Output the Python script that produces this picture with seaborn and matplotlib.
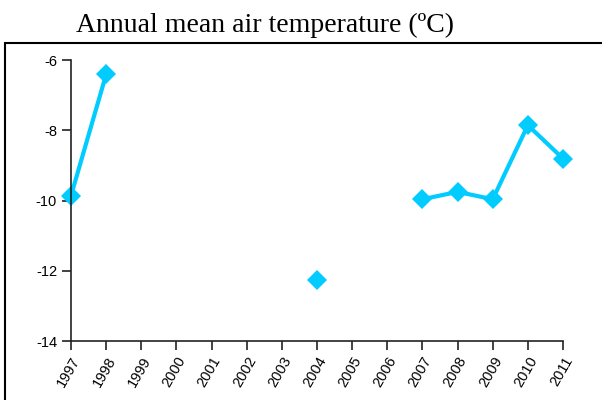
import numpy as np
import pandas as pd
import matplotlib
matplotlib.use("Agg")
import matplotlib.pyplot as plt
import seaborn as sns
from matplotlib.patches import Rectangle

years = list(range(1997, 2012))
temps = [-9.86, -6.40, np.nan, np.nan, np.nan, np.nan, np.nan, -12.25,
         np.nan, np.nan, -9.96, -9.75, -9.96, -7.85, -8.80]
y_ticks = [-14, -12, -10, -8, -6]
title = "Annual mean air temperature (ºC)"
color = "#00CCFF"

df = pd.DataFrame({"year": years, "temp": temps})
# break the line at missing years: each run of present values is its own unit
df["seg"] = df["temp"].isna().cumsum()
df = df.dropna()

sns.set_theme(style="ticks")
plt.rcParams["font.family"] = ["Liberation Sans", "DejaVu Sans"]

fig = plt.figure(figsize=(6.02, 4.00), dpi=100)
ax = fig.add_axes([71/602, 1-341/400, (563-71)/602, (341-60.3)/400])

sns.lineplot(data=df, x="year", y="temp", units="seg", estimator=None,
             color=color, linewidth=3.0, marker="D", markersize=10,
             markeredgewidth=0, markeredgecolor=color, ax=ax, legend=False)
for ln in ax.lines:
    ln.set_clip_on(False)

ax.set_xlim(1997, 2011)
ax.set_ylim(-14, -6)
ax.set_xticks(years)
ax.set_xticklabels([str(y) for y in years], rotation=60, ha="right",
                   rotation_mode="anchor", fontsize=10.5)
ax.set_yticks(y_ticks)
ax.set_yticklabels([str(v) for v in y_ticks], fontsize=10.5)
ax.set_xlabel("")
ax.set_ylabel("")
sns.despine(ax=ax)
for s in ["left", "bottom"]:
    ax.spines[s].set_linewidth(1.2)
    ax.spines[s].set_color("#222222")
    ax.spines[s].set_clip_on(False)
ax.tick_params(axis="both", direction="out", length=6.5, width=1.2,
               color="#222222", labelcolor="black")
ax.tick_params(axis="y", pad=3.5)
ax.tick_params(axis="x", pad=3)
ax.patch.set_alpha(0)

frame = Rectangle((5/602, -0.2), 1.2, 0.2 + 1 - 43/400, transform=fig.transFigure,
                  fill=False, edgecolor="black", linewidth=1.5, clip_on=False)
fig.patches.append(frame)

fig.text(265.5/602, 1-32/400, title, ha="center", va="baseline", color="black",
         fontsize=20, family=["Liberation Serif", "DejaVu Serif"])

fig.savefig("out.png", dpi=100)
